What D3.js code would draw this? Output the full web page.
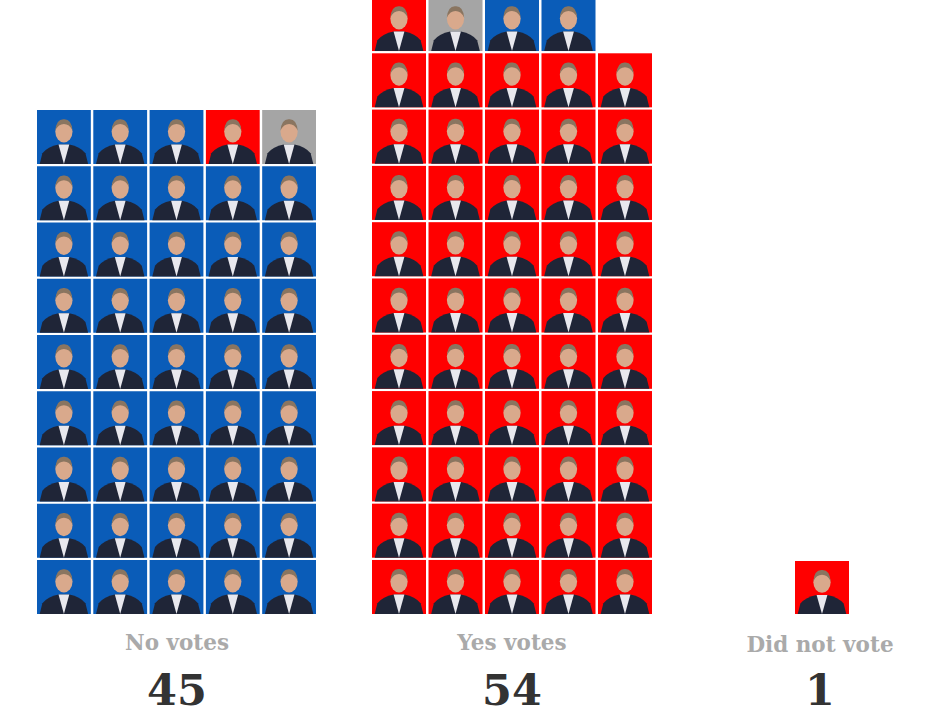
<!DOCTYPE html>
<html><head><meta charset="utf-8">
<script src="https://cdn.jsdelivr.net/npm/d3@7"></script>
<style>body{margin:0;background:#fff}</style></head>
<body><svg id="c" width="942" height="724"></svg>
<script>
const groupLabels = ["No votes", "Yes votes", "Did not vote"];
const groupCounts = [45, 54, 1];
// party of each senator, in reading order (top-left first)
const noParty = ["D","D","D","R","I"].concat(d3.range(40).map(()=>"D"));
const yesParty = ["R","I","D","D"].concat(d3.range(50).map(()=>"R"));
const dnvParty = ["R"];
const colors = {D:"#0a5cb8", R:"#ff0000", I:"#a5a5a5"};

const svg = d3.select("#c");
const groups = [
  {parties:noParty, x0:37, x1:316, top:110},
  {parties:yesParty, x0:372, x1:652, top:-3},
  {parties:dnvParty, x0:795, x1:849, top:561, single:true}
];
const bottom = 614;
groups.forEach((g, gi) => {
  const n = g.parties.length, cols = g.single ? 1 : 5;
  const rem = n % cols, nRows = Math.ceil(n / cols);
  const x = d3.scaleBand().domain(d3.range(cols)).range([g.x0, g.x1]).paddingInner(cols>1?0.044:0);
  const y = d3.scaleBand().domain(d3.range(nRows)).range([g.top, bottom]).paddingInner(nRows>1?0.04:0);
  const items = g.parties.map((p, i) => {
    let r, c;
    if (rem && i < rem) { r = 0; c = i; }
    else { const j = i - rem; r = (rem ? 1 : 0) + Math.floor(j / cols); c = j % cols; }
    return {p, r, c};
  });
  const bw = x.bandwidth(), bh = y.bandwidth();
  const cell = svg.append("g").selectAll("g").data(items).join("g")
    .attr("transform", d => `translate(${x(d.c)},${y(d.r)})`);
  cell.append("rect").attr("width", bw).attr("height", bh).attr("fill", d => colors[d.p]);
  cell.append("path").attr("fill", "#1f2537")
    .attr("d", `M${bw*0.05},${bh} L${bw*0.1},${bh*0.8} Q${bw*0.2},${bh*0.68} ${bw*0.4},${bh*0.64} L${bw*0.6},${bh*0.64} Q${bw*0.8},${bh*0.68} ${bw*0.9},${bh*0.8} L${bw*0.95},${bh} Z`);
  cell.append("path").attr("fill", "#e8e8ee")
    .attr("d", `M${bw*0.4},${bh*0.64} L${bw*0.5},${bh} L${bw*0.6},${bh*0.64} Z`);
  cell.append("ellipse").attr("cx", bw*0.5).attr("cy", bh*0.4).attr("rx", bw*0.16).attr("ry", bh*0.2).attr("fill", "#d9a98c");
  cell.append("path").attr("fill", "#8a7560")
    .attr("d", `M${bw*0.34},${bh*0.38} Q${bw*0.36},${bh*0.16} ${bw*0.5},${bh*0.17} Q${bw*0.64},${bh*0.16} ${bw*0.66},${bh*0.38} Q${bw*0.6},${bh*0.26} ${bw*0.5},${bh*0.26} Q${bw*0.4},${bh*0.26} ${bw*0.34},${bh*0.38} Z`);
});
const centers = [177, 512, 820], labelY = [650, 650, 652];
groupLabels.forEach((t, i) => {
  svg.append("text").attr("x", centers[i]).attr("y", labelY[i]).attr("text-anchor","middle")
    .attr("font-family","DejaVu Serif, serif").attr("font-weight","bold").attr("font-size",21.5)
    .attr("fill","#aaaaaa").text(t);
  svg.append("text").attr("x", centers[i]).attr("y", 705).attr("text-anchor","middle")
    .attr("font-family","DejaVu Serif, serif").attr("font-weight","bold").attr("font-size",43)
    .attr("fill","#333333").text(groupCounts[i]);
});
</script></body></html>
